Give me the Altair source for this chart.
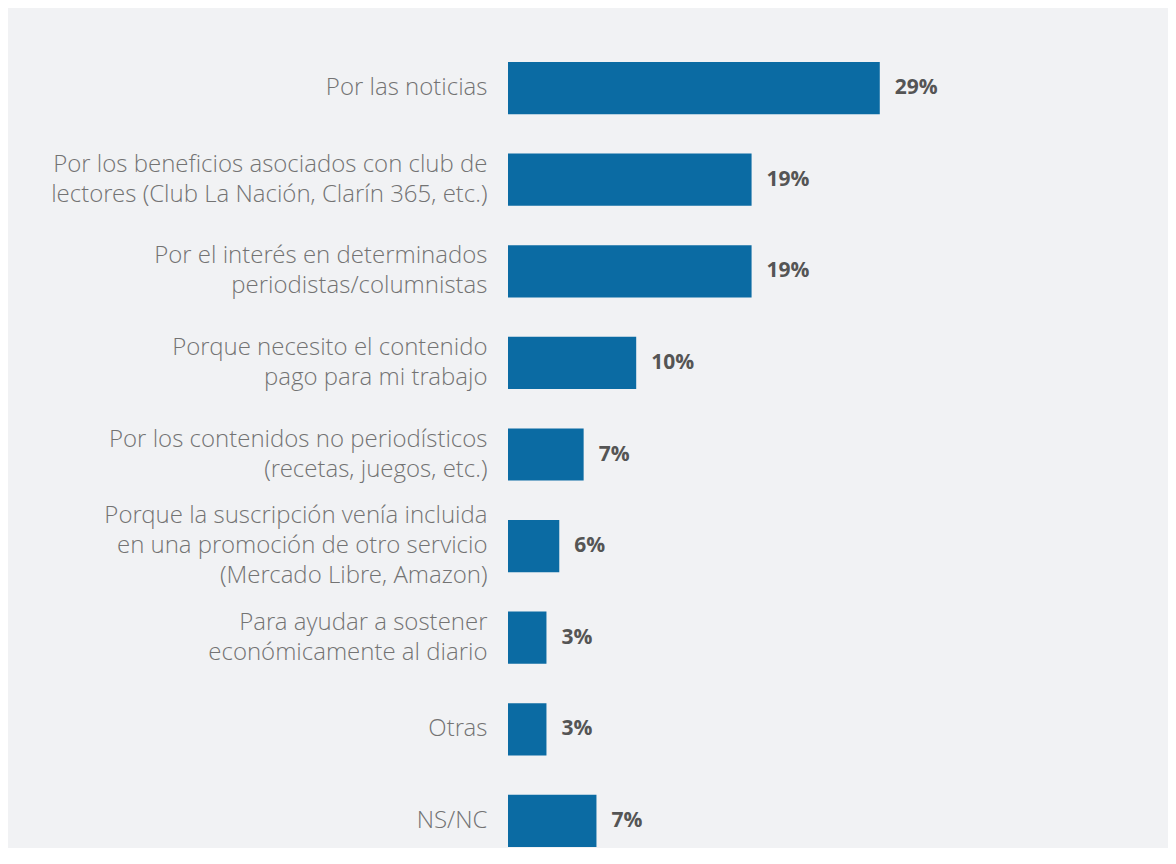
import altair as alt
import pandas as pd

categories = [
    "Por las noticias",
    "Por los beneficios asociados con club de\nlectores (Club La Nación, Clarín 365, etc.)",
    "Por el interés en determinados\nperiodistas/columnistas",
    "Porque necesito el contenido\npago para mi trabajo",
    "Por los contenidos no periodísticos\n(recetas, juegos, etc.)",
    "Porque la suscripción venía incluida\nen una promoción de otro servicio\n(Mercado Libre, Amazon)",
    "Para ayudar a sostener\neconómicamente al diario",
    "Otras",
    "NS/NC",
]
# bar lengths as drawn in the picture
bar_values = [29, 19, 19, 10, 5.9, 4.0, 3, 3, 6.9]
# value labels as printed
value_labels = ["29%", "19%", "19%", "10%", "7%", "6%", "3%", "3%", "7%"]

df = pd.DataFrame({"cat": categories, "val": bar_values, "lab": value_labels})

LH = 30
nlines = "length(split(datum.label, '\\n'))"

y = alt.Y(
    "cat:N",
    sort=None,
    scale=alt.Scale(paddingInner=0.43, paddingOuter=0),
    axis=alt.Axis(
        title=None,
        ticks=False,
        domain=False,
        grid=False,
        labelExpr="split(datum.label, '\\n')",
        labelFont="Open Sans Light, Open Sans",
        labelFontWeight=300,
        labelFontSize=24,
        labelColor="#737373",
        labelLineHeight=LH,
        labelPadding=21,
        labelLimit=600,
        labelAlign="right",
        labelBaseline="middle",
        labelOffset={
            "condition": [
                {"test": f"{nlines} == 3", "value": -LH},
                {"test": f"{nlines} == 2", "value": -LH / 2},
            ],
            "value": 0,
        },
    ),
)
x = alt.X("val:Q", scale=alt.Scale(domain=[0, 50]), axis=None)

bars = alt.Chart(df).mark_bar(color="#0b6ba3").encode(x=x, y=y)
texts = alt.Chart(df).mark_text(
    align="left", baseline="middle", dx=15, font="Open Sans",
    fontWeight="bold", fontSize=21, color="#555555"
).encode(x=x, y=y, text="lab:N")

chart = (bars + texts).properties(
    width=641,
    height=785,
    padding={"left": 500, "top": 54, "right": 19, "bottom": 1},
    autosize=alt.AutoSizeParams(type="none"),
    background="#f1f2f4",
).configure_view(stroke=None)

chart.save("out.html", embed_options={"renderer": "svg", "actions": False})
